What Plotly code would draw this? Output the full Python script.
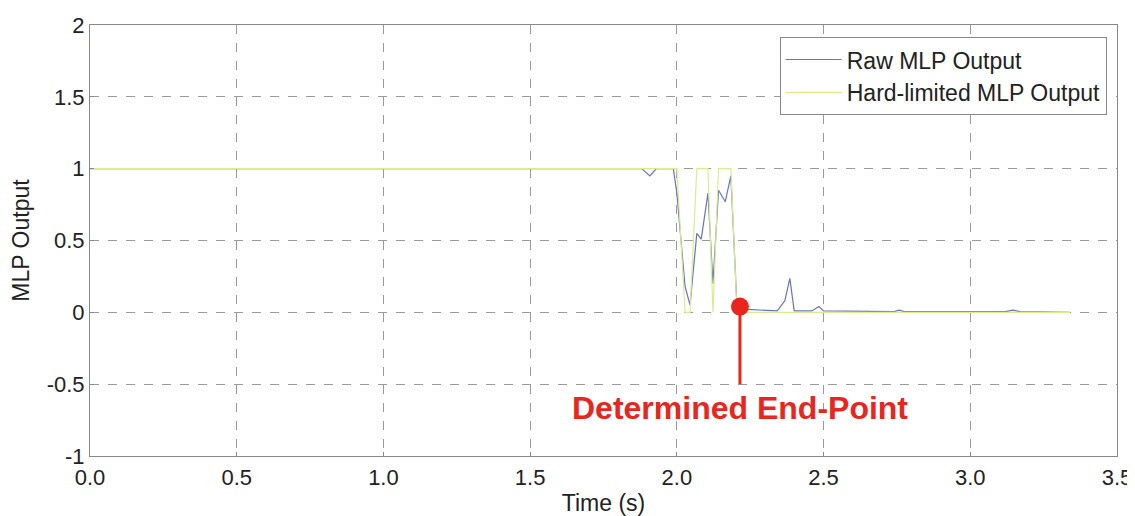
import plotly.graph_objects as go

# Raw MLP output (time in s, value)
raw_t = [0.0, 1.88, 1.908, 1.93, 1.988, 2.0, 2.028, 2.045, 2.068, 2.083, 2.106,
         2.123, 2.142, 2.165, 2.184, 2.205, 2.24, 2.342, 2.368, 2.385, 2.40,
         2.46, 2.484, 2.50, 2.74, 2.758, 2.775, 3.12, 3.145, 3.17, 3.34]
raw_y = [1.0, 1.0, 0.95, 1.0, 1.0, 0.83, 0.18, 0.05, 0.55, 0.51, 0.83,
         0.2, 0.85, 0.77, 0.95, 0.03, 0.02, 0.01, 0.08, 0.236, 0.01,
         0.01, 0.04, 0.01, 0.005, 0.015, 0.005, 0.005, 0.015, 0.005, 0.0]

# Hard-limited MLP output
hl_t = [0.0, 1.988, 2.0, 2.028, 2.045, 2.068, 2.083, 2.106, 2.123, 2.142,
        2.165, 2.184, 2.205, 3.34]
hl_y = [1, 1, 1, 0, 0, 1, 1, 1, 0, 1, 1, 1, 0, 0]

# Determined end-point
end_t = [2.215]
end_y = [0.04]
end_stem_y = [0.04, -0.5]
end_label = "Determined End-Point"

x_ticks = [0.0, 0.5, 1.0, 1.5, 2.0, 2.5, 3.0, 3.5]
x_tick_text = ["0.0", "0.5", "1.0", "1.5", "2.0", "2.5", "3.0", "3.5"]
y_ticks = [-1, -0.5, 0, 0.5, 1, 1.5, 2]
y_tick_text = ["-1", "-0.5", "0", "0.5", "1", "1.5", "2"]

FONT = "Liberation Sans, Arial, sans-serif"
RED = "#e8261e"

fig = go.Figure()
fig.add_trace(go.Scatter(x=raw_t, y=raw_y, mode="lines", name="Raw MLP Output",
                         line=dict(color="#6475c8", width=1.2)))
fig.add_trace(go.Scatter(x=hl_t, y=hl_y, mode="lines", name="Hard-limited MLP Output",
                         line=dict(color="#dcec8a", width=1.2)))
fig.add_trace(go.Scatter(x=[end_t[0], end_t[0]], y=end_stem_y, mode="lines",
                         line=dict(color=RED, width=3), showlegend=False,
                         hoverinfo="skip"))
fig.add_trace(go.Scatter(x=end_t, y=end_y, mode="markers", showlegend=False,
                         marker=dict(color=RED, size=18)))

fig.add_annotation(x=end_t[0], y=-0.665, text="<b>" + end_label + "</b>",
                   showarrow=False, font=dict(family=FONT, size=32, color=RED),
                   xanchor="center", yanchor="middle")

axis_common = dict(showline=True, linecolor="#888888", linewidth=1, mirror=True,
                   showgrid=True, gridcolor="#9a9a9a", griddash="dash", gridwidth=1,
                   zeroline=False, ticks="inside", ticklen=4, tickcolor="#888888",
                   automargin=False,
                   tickfont=dict(family=FONT, size=22, color="#222222"))

fig.update_xaxes(range=[0, 3.5], tickvals=x_ticks, ticktext=x_tick_text,
                 ticklabelstandoff=2,
                 title=dict(text="Time (s)", font=dict(family=FONT, size=23, color="#222222")),
                 **axis_common)
fig.update_yaxes(range=[-1, 2], tickvals=y_ticks, ticktext=y_tick_text,
                 title=dict(text="MLP Output", font=dict(family=FONT, size=23, color="#222222")),
                 **axis_common)

# page body has an 8px default margin, so the figure is sized to fit the window
fig.update_layout(
    width=1127, height=508,
    margin=dict(l=82, r=18, t=17, b=60),
    paper_bgcolor="white", plot_bgcolor="white",
    font=dict(family=FONT, color="#222222"),
    legend=dict(x=0.99, y=0.972, xanchor="right", yanchor="top",
                bgcolor="white", bordercolor="#888888", borderwidth=1,
                font=dict(family=FONT, size=23, color="#222222"),
                tracegroupgap=0, itemwidth=56, entrywidth=275),
    showlegend=True,
)

fig.write_html("out.html")
